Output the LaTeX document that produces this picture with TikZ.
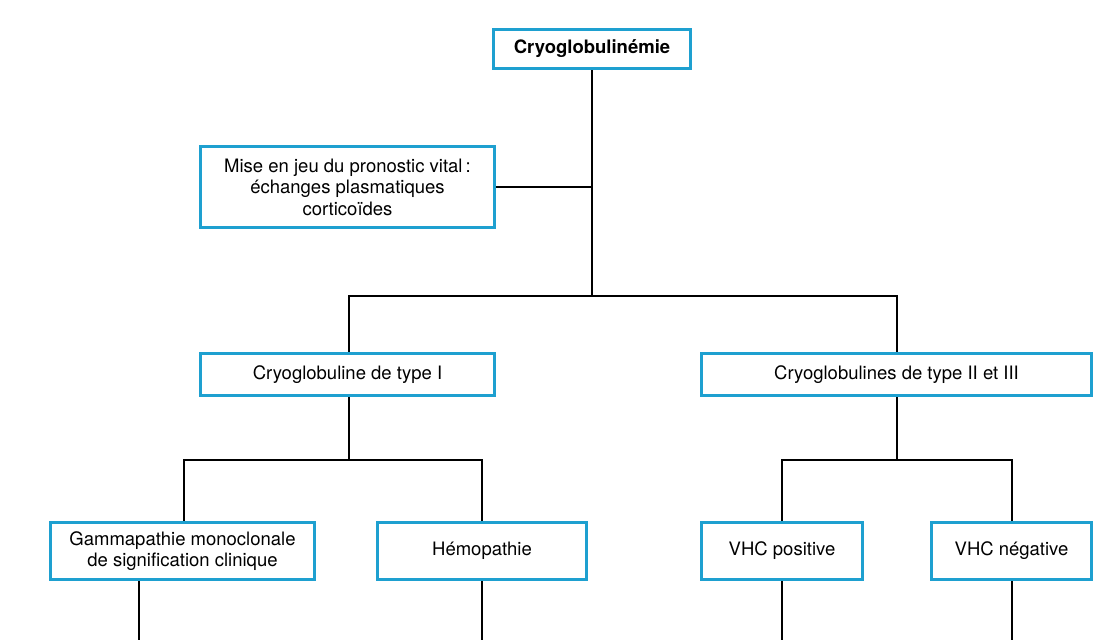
\documentclass[tikz,border=0pt]{standalone}
\usepackage{fontspec}
\setmainfont{TeX Gyre Heros}
\usepackage{xcolor}
\usepackage{tikz}
\usetikzlibrary{positioning}
\definecolor{boxblue}{RGB}{30,160,208}

\begin{document}
\begin{tikzpicture}[x=1pt,y=-1pt,
		box/.style={draw=boxblue, line width=3.2pt, fill=white, align=center, inner sep=0pt,
			font=\fontsize{18.5}{21.5}\selectfont},
		link/.style={draw=black, line width=2pt}]
		
		\useasboundingbox (0,0) rectangle (1111,640);
		
		\node[box, minimum width=197pt, minimum height=39pt, font=\fontsize{18.5}{21.5}\selectfont\bfseries] (cryo) at (592,49) {Cryoglobulinémie};
		\node[box, minimum width=294pt, minimum height=81pt] (vital) at (347.5,187) {Mise en jeu du pronostic vital\,:\\échanges plasmatiques\\corticoïdes};
		\node[box, minimum width=294pt, minimum height=42pt] (typeI) at (347.5,374.5) {Cryoglobuline de type I};
		\node[box, minimum width=390pt, minimum height=42pt] (typeII) at (896.5,374.5) {Cryoglobulines de type II et III};
		\node[box, minimum width=264pt, minimum height=57pt] (mgsc) at (182.5,551) {Gammapathie monoclonale\\de signification clinique};
		\node[box, minimum width=209pt, minimum height=57pt] (hemo) at (482,551) {Hémopathie};
		\node[box, minimum width=161pt, minimum height=57pt] (vhcpos) at (782,551) {VHC positive};
		\node[box, minimum width=160pt, minimum height=57pt] (vhcneg) at (1011.5,551) {VHC négative};
		
		\coordinate (split) at (592,296);
		\coordinate (splitI) at (349,460);
		\coordinate (splitII) at (897,460);
		\coordinate (mgscend) at (139,640);
		\coordinate (hemoend) at (482,640);
		\coordinate (vhcposend) at (782,640);
		\coordinate (vhcnegend) at (1011.5,640);
		
		\draw[link] (cryo.south) -- (split);
		\draw[link] (vital.east) -- (vital.east -| cryo.south);
		\draw[link] (typeI.north -| 349,0) |- (split) -| (typeII.north -| 897,0);
		\draw[link] (typeI.south -| splitI) -- (splitI);
		\draw[link] (mgsc.north -| 184,0) |- (splitI) -| (hemo.north);
		\draw[link] (typeII.south -| splitII) -- (splitII);
		\draw[link] (vhcpos.north) |- (splitII) -| (vhcneg.north);
		\draw[link] (mgsc.south -| mgscend) -- (mgscend);
		\draw[link] (hemo.south) -- (hemoend);
		\draw[link] (vhcpos.south) -- (vhcposend);
		\draw[link] (vhcneg.south) -- (vhcnegend);
	\end{tikzpicture}
\end{document}
